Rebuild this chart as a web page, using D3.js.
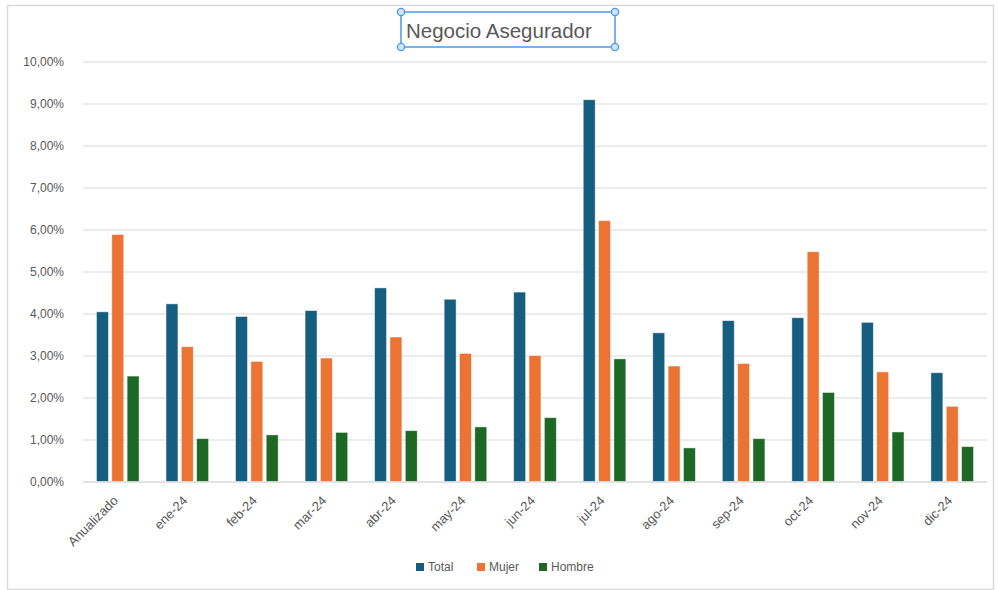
<!DOCTYPE html>
<html>
<head>
<meta charset="utf-8">
<script src="https://cdn.jsdelivr.net/npm/d3@7"></script>
<style>
  html, body { margin: 0; padding: 0; background: #fff; }
  svg { display: block; font-family: "Liberation Sans", Arial, sans-serif; }
</style>
</head>
<body>
<svg id="chart" width="998" height="590"></svg>
<script>
const categories = ["Anualizado","ene-24","feb-24","mar-24","abr-24","may-24","jun-24","jul-24","ago-24","sep-24","oct-24","nov-24","dic-24"];
const seriesNames = ["Total","Mujer","Hombre"];
const total  = [4.04, 4.23, 3.93, 4.07, 4.61, 4.34, 4.51, 9.09, 3.54, 3.83, 3.90, 3.79, 2.59];
const mujer  = [5.88, 3.21, 2.86, 2.94, 3.44, 3.05, 3.00, 6.21, 2.75, 2.81, 5.47, 2.61, 1.79];
const hombre = [2.51, 1.02, 1.11, 1.17, 1.21, 1.30, 1.52, 2.92, 0.80, 1.02, 2.12, 1.18, 0.83];
const yTicks = [0,1,2,3,4,5,6,7,8,9,10];
const title = "Negocio Asegurador";

const colors = {Total: "#165E80", Mujer: "#EB7333", Hombre: "#1C6824"};
const seriesData = {Total: total, Mujer: mujer, Hombre: hombre};

const svg = d3.select("#chart");

// outer frame
svg.append("rect").attr("x", 7.5).attr("y", 5.5).attr("width", 986).attr("height", 584)
  .attr("fill", "#fff").attr("stroke", "#d9d9d9").attr("stroke-width", 1.5);

const plot = {left: 83, right: 987, top: 61.5, bottom: 481.5};

const y = d3.scaleLinear().domain([0, 10]).range([plot.bottom, plot.top]);
const x0 = d3.scaleBand().domain(categories).range([plot.left, plot.right])
  .paddingInner(0.387).paddingOuter(0.387 / 2);
const x1 = d3.scaleBand().domain(seriesNames).range([0, x0.bandwidth()]).paddingInner(0.22);

const fmt = v => d3.format(".2f")(v).replace(".", ",") + "%";

// gridlines
const grid = svg.append("g")
  .attr("transform", `translate(${plot.left},0)`)
  .call(d3.axisLeft(y).tickValues(yTicks).tickSize(-(plot.right - plot.left)).tickFormat(""));
grid.select(".domain").remove();
grid.selectAll(".tick line").attr("stroke", "#d9d9d9").attr("stroke-width", 1);

// y labels
const yAxis = svg.append("g")
  .attr("transform", `translate(${plot.left},0)`)
  .call(d3.axisLeft(y).tickValues(yTicks).tickSize(0).tickPadding(19).tickFormat(fmt));
yAxis.select(".domain").remove();
yAxis.selectAll("text").attr("fill", "#595959").attr("font-size", 12)
  .attr("font-family", "Liberation Sans, Arial, sans-serif");

// bars
const groups = svg.append("g").selectAll("g")
  .data(categories).join("g")
  .attr("transform", d => `translate(${x0(d)},0)`);

groups.selectAll("rect")
  .data((c, i) => seriesNames.map(s => ({s, v: seriesData[s][i]})))
  .join("rect")
  .attr("x", d => x1(d.s))
  .attr("width", x1.bandwidth())
  .attr("y", d => y(d.v))
  .attr("height", d => y(0) - y(d.v))
  .attr("fill", d => colors[d.s])
  .attr("stroke", "#ffffff")
  .attr("stroke-opacity", 0.6)
  .attr("stroke-width", 0.8);

// x axis
const xAxis = svg.append("g")
  .attr("transform", `translate(0,${plot.bottom})`)
  .call(d3.axisBottom(x0).tickSize(0).tickPadding(0));
xAxis.select(".domain").attr("stroke", "#d9d9d9").attr("stroke-width", 1);
xAxis.selectAll("text")
  .attr("fill", "#595959").attr("font-size", 13)
  .attr("font-family", "Liberation Sans, Arial, sans-serif")
  .attr("text-anchor", "end")
  .attr("dy", 0)
  .attr("y", 0)
  .attr("transform", "translate(1,20) rotate(-45)");

// title
svg.append("text").attr("x", 406).attr("y", 37.5)
  .attr("fill", "#595959").attr("font-size", 20.5)
  .attr("font-family", "Liberation Sans, Arial, sans-serif")
  .text(title);
const tb = {x: 401, y: 12, w: 214, h: 35};
svg.append("rect").attr("x", tb.x).attr("y", tb.y).attr("width", tb.w).attr("height", tb.h)
  .attr("fill", "none").attr("stroke", "#4a9ae6").attr("stroke-width", 1.5);
[[tb.x, tb.y],[tb.x + tb.w, tb.y],[tb.x, tb.y + tb.h],[tb.x + tb.w, tb.y + tb.h]].forEach(([cx, cy]) => {
  svg.append("circle").attr("cx", cx).attr("cy", cy).attr("r", 3.6)
    .attr("fill", "#cfe4fa").attr("stroke", "#4a9ae6").attr("stroke-width", 1.3);
});

// legend
const legendX = [416, 477, 539];
const legend = svg.append("g").selectAll("g").data(seriesNames).join("g")
  .attr("transform", (d, i) => `translate(${legendX[i]},563)`);
legend.append("rect").attr("width", 8).attr("height", 8).attr("fill", d => colors[d]);
legend.append("text").attr("x", 12).attr("y", 8).attr("fill", "#595959").attr("font-size", 12)
  .attr("font-family", "Liberation Sans, Arial, sans-serif")
  .text(d => d);
</script>
</body>
</html>
